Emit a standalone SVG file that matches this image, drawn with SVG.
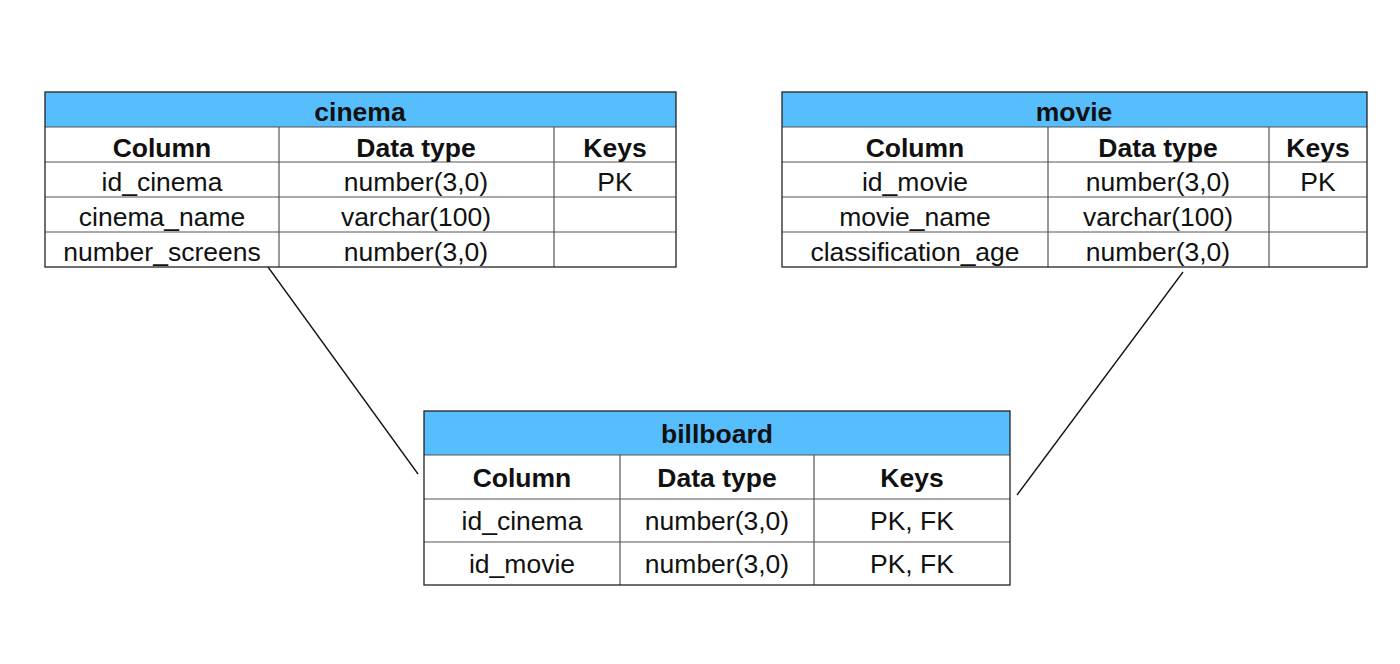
<svg xmlns="http://www.w3.org/2000/svg" width="1400" height="664" viewBox="0 0 1400 664">
<style>
.hdr{fill:#56BEFC;stroke:none}
.box{fill:none;stroke:#222;stroke-width:1.3}
.ln{stroke:#555;stroke-width:1.2}
.t{font-family:"Liberation Sans",Arial,sans-serif;font-size:26.5px;fill:#111;text-anchor:middle}
.b{font-weight:bold}
.c{stroke:#111;stroke-width:1.3;fill:none}
</style>
<rect width="1400" height="664" fill="#fff"/>
<g id="connectors">
<line class="c" x1="268" y1="267" x2="418" y2="474"/>
<line class="c" x1="1183" y1="272" x2="1017" y2="495"/>
</g>
<g id="cinema">
<rect class="hdr" x="45" y="92" width="631" height="35"/>
<line class="ln" x1="45" y1="127" x2="676" y2="127"/>
<line class="ln" x1="45" y1="162" x2="676" y2="162"/>
<line class="ln" x1="45" y1="197" x2="676" y2="197"/>
<line class="ln" x1="45" y1="232" x2="676" y2="232"/>
<line class="ln" x1="279" y1="127" x2="279" y2="267"/>
<line class="ln" x1="554" y1="127" x2="554" y2="267"/>
<rect class="box" x="45" y="92" width="631" height="175"/>
<text class="t b" x="360" y="121">cinema</text>
<text class="t b" x="162" y="157">Column</text>
<text class="t b" x="416" y="157">Data type</text>
<text class="t b" x="615" y="157">Keys</text>
<text class="t" x="162" y="191">id_cinema</text>
<text class="t" x="416" y="191">number(3,0)</text>
<text class="t" x="615" y="191">PK</text>
<text class="t" x="162" y="226">cinema_name</text>
<text class="t" x="416" y="226">varchar(100)</text>
<text class="t" x="162" y="261">number_screens</text>
<text class="t" x="416" y="261">number(3,0)</text>
</g>
<g id="movie">
<rect class="hdr" x="782" y="92" width="585" height="35"/>
<line class="ln" x1="782" y1="127" x2="1367" y2="127"/>
<line class="ln" x1="782" y1="162" x2="1367" y2="162"/>
<line class="ln" x1="782" y1="197" x2="1367" y2="197"/>
<line class="ln" x1="782" y1="232" x2="1367" y2="232"/>
<line class="ln" x1="1048" y1="127" x2="1048" y2="267"/>
<line class="ln" x1="1269" y1="127" x2="1269" y2="267"/>
<rect class="box" x="782" y="92" width="585" height="175"/>
<text class="t b" x="1074" y="121">movie</text>
<text class="t b" x="915" y="157">Column</text>
<text class="t b" x="1158" y="157">Data type</text>
<text class="t b" x="1318" y="157">Keys</text>
<text class="t" x="915" y="191">id_movie</text>
<text class="t" x="1158" y="191">number(3,0)</text>
<text class="t" x="1318" y="191">PK</text>
<text class="t" x="915" y="226">movie_name</text>
<text class="t" x="1158" y="226">varchar(100)</text>
<text class="t" x="915" y="261">classification_age</text>
<text class="t" x="1158" y="261">number(3,0)</text>
</g>
<g id="billboard">
<rect class="hdr" x="424" y="411" width="586" height="44"/>
<line class="ln" x1="424" y1="455" x2="1010" y2="455"/>
<line class="ln" x1="424" y1="499" x2="1010" y2="499"/>
<line class="ln" x1="424" y1="542" x2="1010" y2="542"/>
<line class="ln" x1="620" y1="455" x2="620" y2="585"/>
<line class="ln" x1="814" y1="455" x2="814" y2="585"/>
<rect class="box" x="424" y="411" width="586" height="174"/>
<text class="t b" x="717" y="443">billboard</text>
<text class="t b" x="522" y="487">Column</text>
<text class="t b" x="717" y="487">Data type</text>
<text class="t b" x="912" y="487">Keys</text>
<text class="t" x="522" y="530">id_cinema</text>
<text class="t" x="717" y="530">number(3,0)</text>
<text class="t" x="912" y="530">PK, FK</text>
<text class="t" x="522" y="573">id_movie</text>
<text class="t" x="717" y="573">number(3,0)</text>
<text class="t" x="912" y="573">PK, FK</text>
</g>
</svg>
